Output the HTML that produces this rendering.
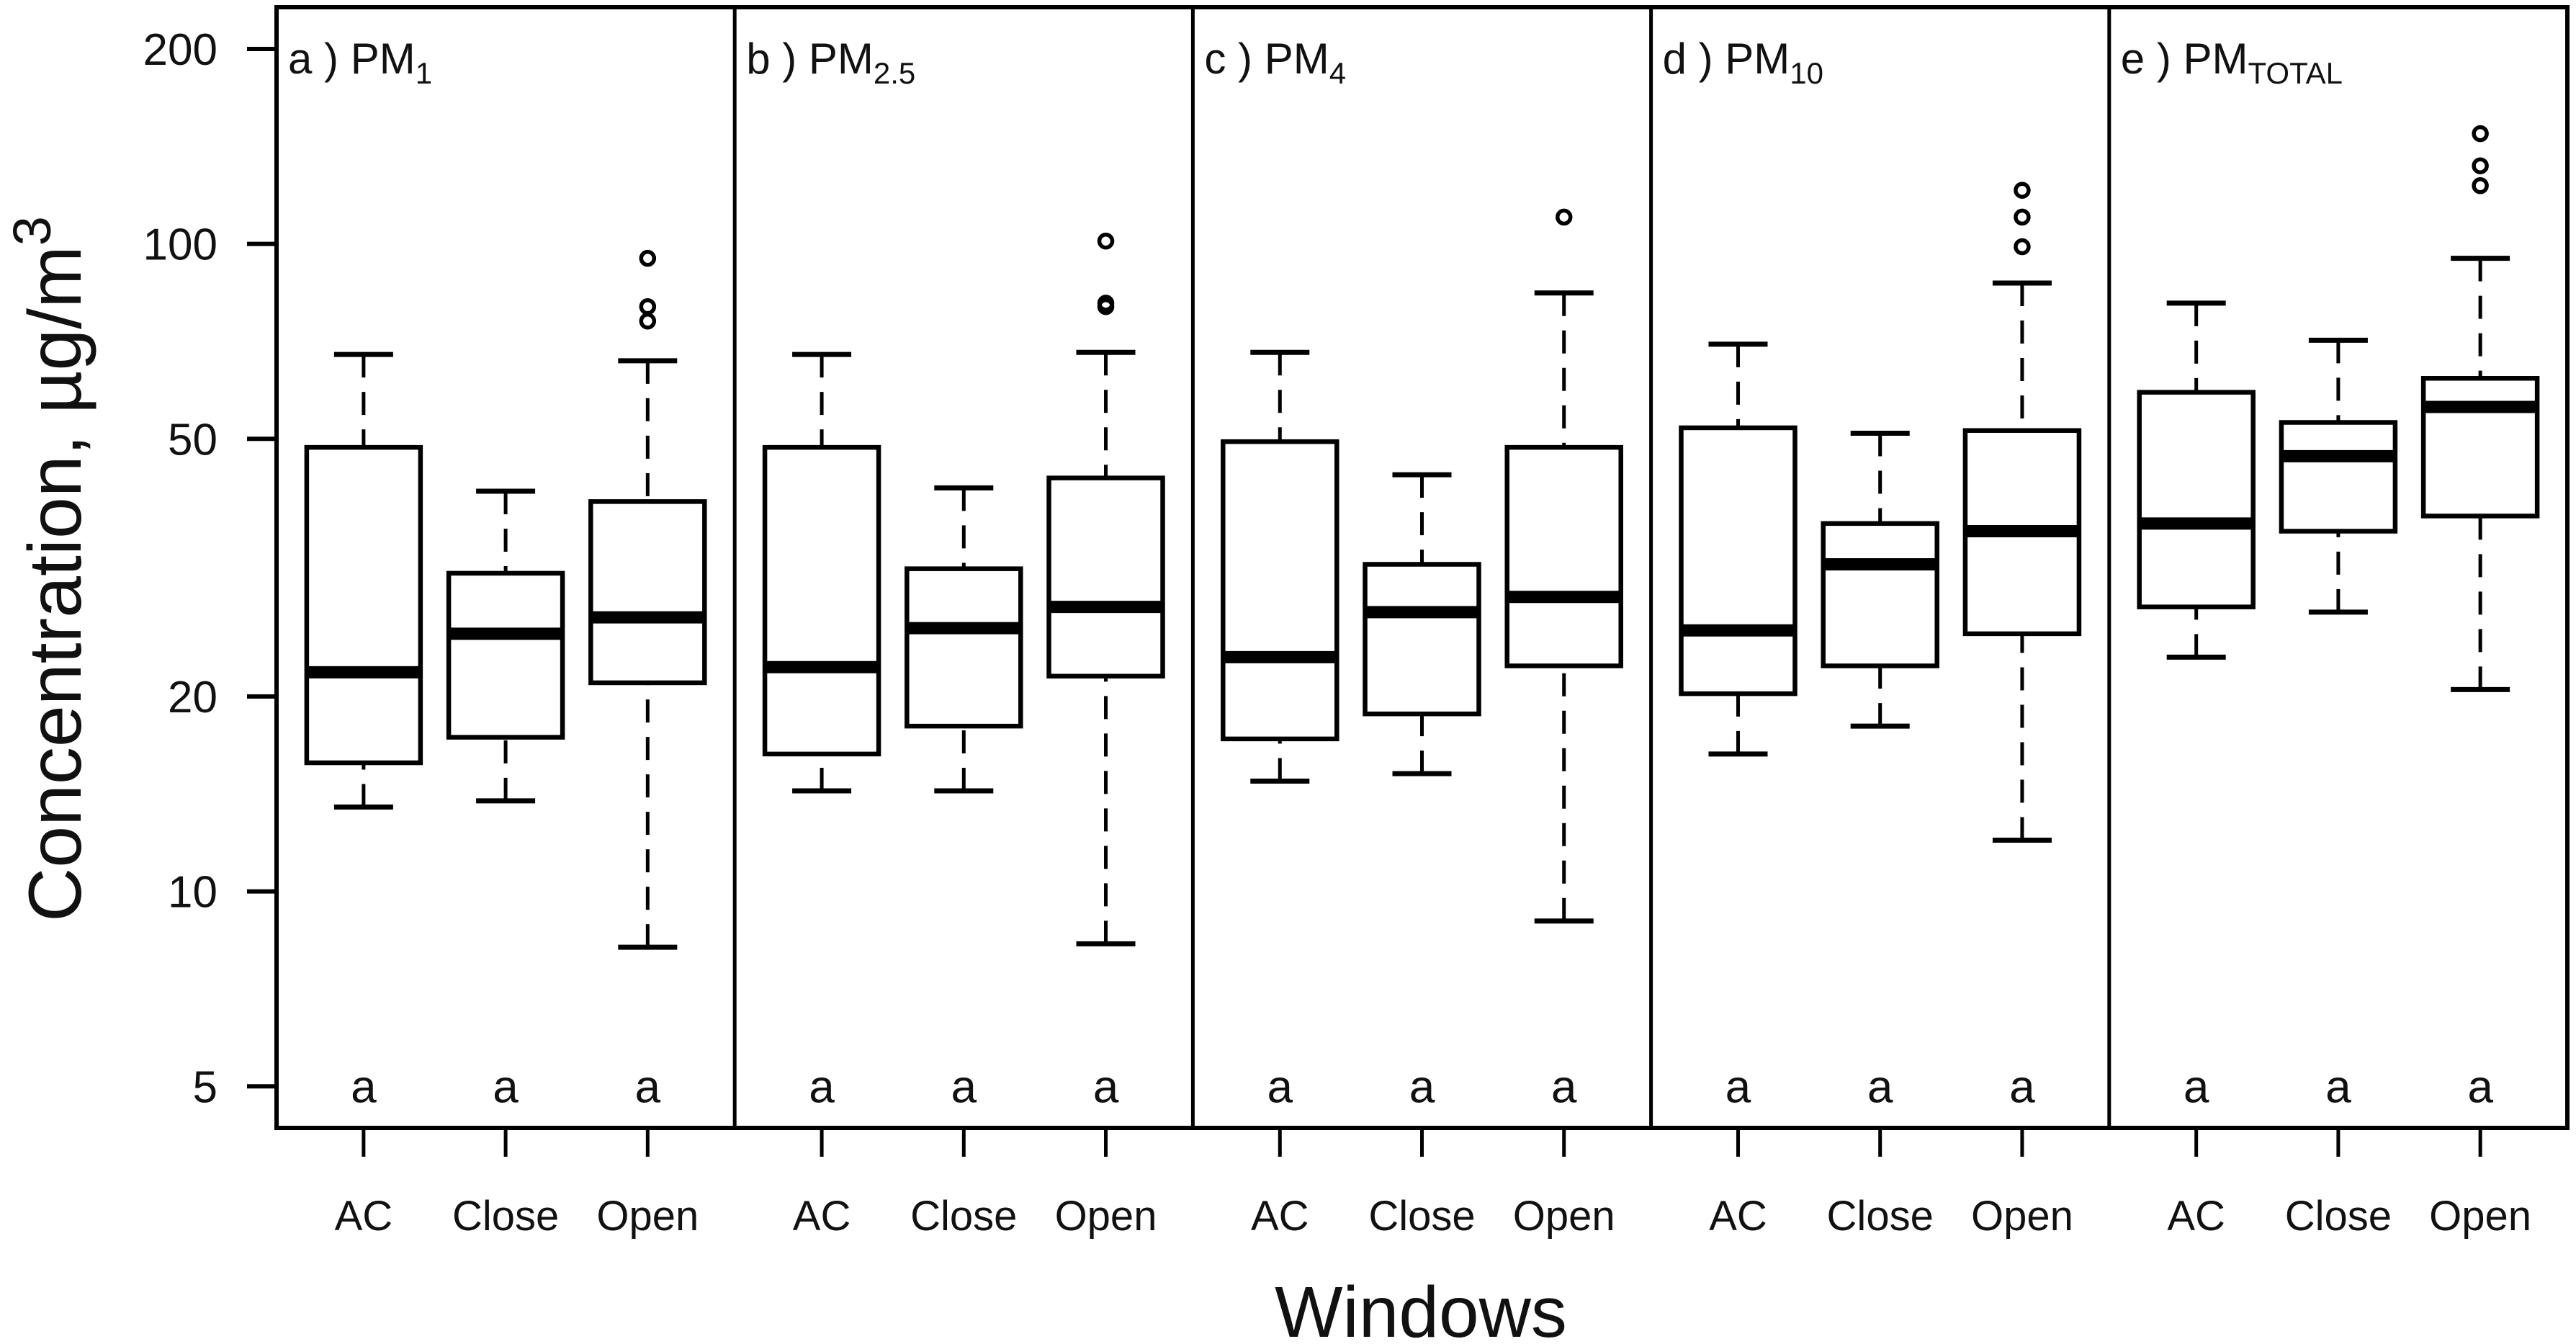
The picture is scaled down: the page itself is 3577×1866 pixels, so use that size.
<!DOCTYPE html>
<html><head><meta charset="utf-8"><style>
html,body{margin:0;padding:0;background:#fff;}
svg{display:block;font-family:"Liberation Sans",Arial,sans-serif;}
</style></head><body>
<svg id="chart" width="3577" height="1866" viewBox="0 0 3577 1866" xmlns="http://www.w3.org/2000/svg"></svg>
<script>
const panels = ["a","b","c","d","e"];
const panelSub = ["1","2.5","4","10","TOTAL"];
const groups = ["AC","Close","Open"];
const yTicks = [5,10,20,50,100,200];
const letters = ["a","a","a"];
// [lowWhisker, q1, median, q3, highWhisker] for each group per panel
const statsPM1 = [[13.5,15.8,21.8,48.5,67.5],[13.8,17.3,25,31,41.5],[8.2,21,26.5,40,66]];
const statsPM25 = [[14.3,16.3,22.2,48.5,67.5],[14.3,18,25.5,31.5,42],[8.3,21.5,27.5,43.5,68]];
const statsPM4 = [[14.8,17.2,23,49.5,68],[15.2,18.8,27,32,44],[9,22.3,28.5,48.5,84]];
const statsPM10 = [[16.3,20.2,25.3,52,70],[18,22.3,32,37,51],[12,25,36,51.5,87]];
const statsTOT = [[23,27.5,37,59,81],[27,36,47,53,71],[20.5,38,56,62,95]];
const outPM1 = [[],[],[76,80,95]];
const outPM25 = [[],[],[80,81,101]];
const outPM4 = [[],[],[110]];
const outPM10 = [[],[],[99,110,121]];
const outTOT = [[],[],[123,132,148]];
const allStats=[statsPM1,statsPM25,statsPM4,statsPM10,statsTOT];
const allOut=[outPM1,outPM25,outPM4,outPM10,outTOT];

const NS="http://www.w3.org/2000/svg";
const svg=document.getElementById('chart');
const L=384,R=3565,T=10,B=1566;
const PW=(R-L)/5;
const y200=68,dec=899;
function yS(v){return y200+(Math.log10(200)-Math.log10(v))*dec;}
function xS(p,g){return L+p*PW+PW*(0.19+g*0.31);}
function mk(tag,attrs,parent){const e=document.createElementNS(NS,tag);for(const k in attrs)e.setAttribute(k,attrs[k]);(parent||svg).appendChild(e);return e;}

const frame=mk('rect',{x:L,y:T,width:R-L,height:B-T,fill:'none',stroke:'#000','stroke-width':6});


for(let p=1;p<5;p++){const d=mk('line',{x1:L+p*PW,x2:L+p*PW,y1:T,y2:B,stroke:'#000','stroke-width':5});

}

yTicks.forEach(v=>{const y=yS(v);
const t=mk('line',{x1:343,x2:L,y1:y,y2:y,stroke:'#000','stroke-width':6});


const tx=mk('text',{x:302,y:y+22,'text-anchor':'end','font-size':62,fill:'#111'});tx.textContent=v;

});

const yt=mk('text',{x:0,y:0,'text-anchor':'middle','font-size':104,fill:'#111',transform:'translate(112,790) rotate(-90)'});


yt.innerHTML='Concentration, µg/m<tspan dy="-42" font-size="74">3</tspan>';
const xt=mk('text',{x:1973,y:1856,'text-anchor':'middle','font-size':100,fill:'#111'});xt.textContent='Windows';



panels.forEach((pn,p)=>{
 const lab=mk('text',{x:L+p*PW+16,y:102,'font-size':60,fill:'#111'});
 
 
 lab.innerHTML=pn+' ) PM<tspan dy="14" font-size="42">'+panelSub[p]+'</tspan>';
 groups.forEach((g,gi)=>{
  const cx=xS(p,gi),s=allStats[p][gi],hw=79,cw=41;
  const grp=mk('g',{});
  
  
  mk('line',{x1:cx,x2:cx,y1:yS(s[0]),y2:yS(s[1]),stroke:'#000','stroke-width':5,'stroke-dasharray':'32,20'},grp);
  mk('line',{x1:cx,x2:cx,y1:yS(s[4]),y2:yS(s[3]),stroke:'#000','stroke-width':5,'stroke-dasharray':'32,20'},grp);
  mk('line',{x1:cx-cw,x2:cx+cw,y1:yS(s[0]),y2:yS(s[0]),stroke:'#000','stroke-width':7},grp);
  mk('line',{x1:cx-cw,x2:cx+cw,y1:yS(s[4]),y2:yS(s[4]),stroke:'#000','stroke-width':7},grp);
  mk('rect',{x:cx-hw,y:yS(s[3]),width:2*hw,height:yS(s[1])-yS(s[3]),fill:'#fff',stroke:'#000','stroke-width':6.5},grp);
  mk('line',{x1:cx-hw,x2:cx+hw,y1:yS(s[2]),y2:yS(s[2]),stroke:'#000','stroke-width':17},grp);
  allOut[p][gi].forEach(o=>{const c=mk('circle',{cx:cx,cy:yS(o),r:9,fill:'none',stroke:'#000','stroke-width':5.5},grp);
   
   });
  const a=mk('text',{x:cx,y:yS(5)+22,'text-anchor':'middle','font-size':64,fill:'#111'});a.textContent=letters[gi];
  
  
  const tk=mk('line',{x1:cx,x2:cx,y1:B,y2:1606,stroke:'#000','stroke-width':5});
  
  
  const xl=mk('text',{x:cx,y:1708,'text-anchor':'middle','font-size':58,fill:'#111'});xl.textContent=g;
  
  
 });
});
</script>
</body></html>
